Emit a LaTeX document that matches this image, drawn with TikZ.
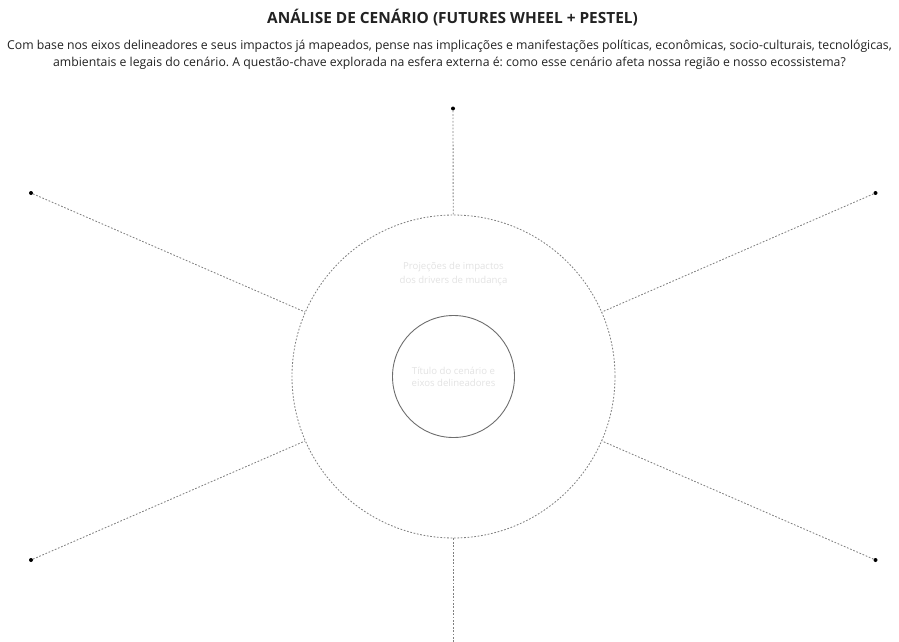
\documentclass[tikz,border=0pt]{standalone}
\usepackage{fontspec}
\setmainfont{Open Sans}
\usepackage{tikz}
\usetikzlibrary{positioning}
\definecolor{wheelline}{HTML}{808080}
\definecolor{ringline}{HTML}{6E6E6E}
\definecolor{hinttext}{HTML}{E2E2E2}
\definecolor{bodytext}{HTML}{222222}
\frenchspacing
\tikzset{font=\normalsize}
\tikzset{
  spoke/.style={draw=wheelline, line width=0.85pt, dash pattern=on 1.7pt off 1.7pt},
  enddot/.style={circle, fill=black, inner sep=0pt, minimum size=4pt},
  hint/.style={text=hinttext, align=center}
}

\begin{document}
\begin{tikzpicture}[x=1pt, y=-1pt]
          \useasboundingbox (0,0) rectangle (899,642);
          % header
          \node[font=\fontsize{15.4}{19}\selectfont\bfseries, text=bodytext] (title) at (452.5,18) {ANÁLISE DE CENÁRIO (FUTURES WHEEL + PESTEL)};
          \node[font=\fontsize{12.25}{17}\selectfont, text=bodytext, align=center] (intro) at (449.5,55) {Com base nos eixos delineadores e seus impactos já mapeados, pense nas implicações e manifestações políticas, econômicas, socio-culturais, tecnológicas,\\ambientais e legais do cenário. A questão-chave explorada na esfera externa é: como esse cenário afeta nossa região e nosso ecossistema?};
          % wheel
          \coordinate (centre) at (453.5,376.5);
          \node[circle, spoke, inner sep=0pt, minimum size=323pt] (outer) at (centre) {};
          \node[circle, draw=ringline, line width=0.9pt, inner sep=0pt, minimum size=122pt] (inner) at (centre) {};
          \node[hint, font=\fontsize{9.6}{14.3}\selectfont] (impacts) at (453.5,274) {Projeções de impactos\\dos drivers de mudança};
          \node[hint, font=\fontsize{9.6}{12.3}\selectfont] (scenario) at (453.5,377) {Título do cenário e\\eixos delineadores};
          % spokes
          \node[enddot] (top) at (453,108.5) {};
          \node[enddot] (topleft) at (31,193) {};
          \node[enddot] (topright) at (875.5,193) {};
          \node[enddot] (botleft) at (31,560) {};
          \node[enddot] (botright) at (875.5,560) {};
          \coordinate (bottom) at (453.5,642);
          \foreach \p in {top, topleft, topright, botleft, botright}
            \draw[spoke] (\p) -- (outer);
          \draw[spoke] (outer) -- (bottom);
        \end{tikzpicture}
\end{document}
